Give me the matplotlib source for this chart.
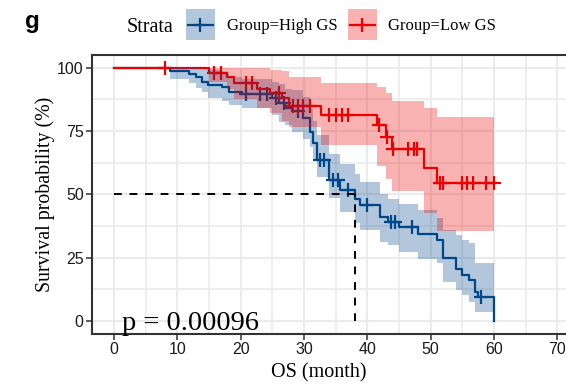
import numpy as np
import matplotlib
matplotlib.use("Agg")
import matplotlib.pyplot as plt
from matplotlib.patches import Rectangle
from matplotlib.lines import Line2D

# Kaplan-Meier estimates (survival %, 95% CI) by group
high_time = [0, 8.8, 11.9, 13.0, 13.9, 14.9, 17.0, 18.2, 20.2, 24.9, 26.0, 27.0,
             28.1, 29.9, 31.0, 31.4, 32.0, 33.9, 35.7, 38.0, 38.9, 42.0, 43.3,
             45.0, 48.0, 51.0, 52.0, 54.0, 55.0, 56.0, 57.0, 57.5, 60.0]
high_surv = [100, 98.8, 97.5, 96.2, 94.4, 93.1, 92.2, 90.4, 89.5, 87.9, 86.2, 83.9,
             82.9, 80.0, 74.7, 70.1, 63.6, 55.7, 51.7, 48.0, 45.8, 41.2, 39.2,
             37.0, 34.3, 32.0, 24.7, 20.4, 18.3, 16.2, 11.6, 9.3, 0]
high_lower = [100, 95.6, 93.8, 91.9, 90.5, 88.2, 87.0, 85.3, 84.0, 81.3, 78.7, 77.4,
              74.7, 72.0, 68.8, 64.0, 57.0, 48.4, 43.0, 38.6, 35.9, 31.3, 30.0,
              27.4, 24.5, 22.8, 15.5, 12.2, 10.3, 7.6, 3.7, 3.7, 0]
high_upper = [100, 100, 100, 100, 99.5, 99.0, 98.0, 96.5, 95.5, 94.5, 93.5, 91.5,
              91.0, 88.5, 83.5, 79.0, 73.5, 66.0, 62.0, 58.0, 55.0, 50.0, 48.0,
              46.0, 44.0, 40.5, 36.0, 34.0, 32.0, 30.7, 22.8, 22.8, 0]
high_censor = [20.9, 23.0, 24.1, 25.5, 26.8, 29.1, 32.6, 33.2, 34.6, 35.3, 37.0,
               39.9, 43.8, 44.4, 47.0, 58.0]

low_time = [0, 15.0, 17.8, 19.0, 22.5, 24.6, 26.6, 27.6, 32.7, 41.6, 43.0, 43.9,
            49.0, 51.0, 60.0]
low_surv = [100, 98.0, 96.4, 93.8, 91.5, 89.9, 87.9, 85.0, 81.2, 77.4, 72.5, 67.8,
            60.5, 54.3, 54.3]
low_lower = [100, 94.5, 91.5, 87.5, 84.0, 82.0, 79.0, 76.5, 69.5, 61.0, 56.0, 51.4,
             42.8, 35.6, 35.6]
low_upper = [100, 100, 100, 100, 100, 99.0, 98.5, 96.5, 93.8, 92.3, 89.9, 87.0,
             84.2, 80.4, 80.4]
low_censor = [8.0, 15.8, 16.9, 20.8, 21.8, 26.0, 28.2, 29.0, 29.8, 30.9, 34.0, 35.0,
              36.0, 37.0, 41.9, 43.1, 44.1, 46.5, 47.4, 47.8, 51.5, 52.0, 55.0,
              55.7, 56.7, 58.8, 60.0]

group_labels = ["Group=High GS", "Group=Low GS"]
median_high = 38.0
p_label = "p = 0.00096"

x_ticks = [0, 10, 20, 30, 40, 50, 60, 70]
y_ticks = [0, 25, 50, 75, 100]

BLUE = "#00468B"
RED = "#ED0000"
GRID = "#EBEBEB"
DARK = "#333333"
SERIF = ["Liberation Serif", "DejaVu Serif"]
SANS = ["Liberation Sans", "DejaVu Sans"]

W, H = 566, 387
fig = plt.figure(figsize=(W / 100, H / 100), dpi=100)
ax = fig.add_axes([92 / W, 1 - 333.7 / H, (579.3 - 92) / W, (333.7 - 55) / H])
ax.set_xlim(-3.5, 73.5)
ax.set_ylim(-5, 105)

# grid: majors and minors
ax.set_xticks(x_ticks)
ax.set_yticks(y_ticks)
ax.set_xticks(np.arange(5, 75, 10), minor=True)
ax.set_yticks(np.arange(12.5, 100, 25), minor=True)
ax.grid(which="major", color=GRID, lw=1.5, zorder=0)
ax.grid(which="minor", color=GRID, lw=1.2, zorder=0)
ax.tick_params(which="minor", length=0)
ax.tick_params(which="major", length=4, width=1.1, color=DARK,
               labelsize=11.5, labelcolor="#1a1a1a", pad=2)
for lab in ax.get_xticklabels() + ax.get_yticklabels():
    lab.set_family(SANS)
ax.set_axisbelow(True)
for side in ["left", "bottom", "top"]:
    ax.spines[side].set_color(DARK)
    ax.spines[side].set_linewidth(1.5)
ax.spines["right"].set_visible(False)


def step_value(times, values, t):
    idx = np.searchsorted(times, t, side="right") - 1
    return np.asarray(values)[idx]


series = [
    (high_time, high_surv, high_lower, high_upper, high_censor, BLUE),
    (low_time, low_surv, low_lower, low_upper, low_censor, RED),
]

# survival curves and censor ticks
for t, s, lo, up, cens, col in series:
    ax.step(t, s, where="post", color=col, lw=1.6, zorder=2)
    cy = [step_value(t, s, c) for c in cens]
    ax.plot(cens, cy, ls="none", marker="+", ms=10, mew=1.6, color=col, zorder=2)

# confidence ribbons laid over the curves
for t, s, lo, up, cens, col in series:
    ax.fill_between(t, lo, up, step="post", color=col, alpha=0.3, lw=0, zorder=3)

# median survival guide
ax.plot([0, median_high], [50, 50], color="black", lw=1.4, ls=(0, (4, 4)), zorder=5)
ax.plot([median_high, median_high], [0, 50], color="black", lw=1.4, ls=(0, (4, 4)), zorder=5)

ax.text(1.2, -3.55, p_label, fontsize=20.5, family=SERIF, va="baseline",
        ha="left", zorder=6)

# axis titles
fig.text(45 / W, 1 - 194 / H, "Survival probability (%)", rotation=90,
         ha="center", va="center", fontsize=14.3, family=SERIF)
fig.text(319 / W, 1 - 373 / H, "OS (month)", ha="center", va="center",
         fontsize=14.5, family=SERIF)

# panel tag
fig.text(25 / W, 1 - 28 / H, "g", fontsize=17.5, fontweight="bold", family=SANS,
         va="baseline", ha="left")

# legend
fig.text(127 / W, 1 - 31.5 / H, "Strata", fontsize=14.5, family=SERIF,
         va="baseline", ha="left")
keys = [(185.7, BLUE, 227), (347.7, RED, 388)]
for (kx, col, tx), lab in zip(keys, group_labels):
    fig.add_artist(Rectangle((kx / W, 1 - 40 / H), 29 / W, 31 / H,
                             transform=fig.transFigure, facecolor=col,
                             alpha=0.3, edgecolor="none"))
    fig.add_artist(Line2D([(kx + 2) / W, (kx + 27) / W], [1 - 24.5 / H] * 2,
                          transform=fig.transFigure, color=col, lw=1.6))
    fig.add_artist(Line2D([(kx + 14.5) / W], [1 - 24.5 / H],
                          transform=fig.transFigure, color=col, marker="+",
                          ms=10, mew=1.6))
    fig.text(tx / W, 1 - 30 / H, lab, fontsize=12, family=SERIF,
             va="baseline", ha="left")

fig.savefig("out.png", dpi=100)
